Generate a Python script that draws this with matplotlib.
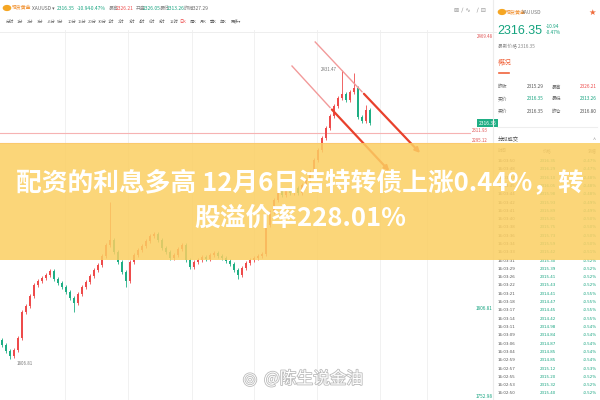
import matplotlib
matplotlib.use("Agg")
import matplotlib.pyplot as plt
from matplotlib.patches import Rectangle, Circle
import matplotlib.patheffects as pe

plt.rcParams['font.family'] = ['Noto Sans CJK SC', 'DejaVu Sans']

# daily closes
closes = [1837.0, 1824.0, 1813.2, 1826.2, 1852.1, 1908.3, 1921.2, 1942.8, 1966.6, 1975.2,
          1981.7, 1988.2, 1996.8, 1979.6, 1970.9, 1962.3, 1951.5, 1938.5, 1927.7, 1947.2,
          1962.3, 1973.1, 1986.0, 1999.0, 2009.8, 2029.2, 2053.0, 2063.8, 2037.9, 2016.3,
          1994.7, 1975.2, 2016.3, 2031.4, 2042.2, 2050.8, 2061.6, 2072.4, 2076.8, 2063.8,
          2046.5, 2037.9, 2024.9, 2031.4, 2044.4, 2053.0, 2020.6, 2005.5, 2016.3, 2020.6,
          2027.1, 2022.8, 2031.4, 2035.7, 2029.2, 2024.9, 2018.4, 2012.0, 1999.0, 1988.2,
          2003.3, 2014.1, 2020.6, 2024.9, 2029.2, 2033.6, 2096.2, 2124.3, 2150.2, 2169.6,
          2161.0, 2171.8, 2165.3, 2176.1, 2165.3, 2182.6, 2193.4, 2210.7, 2236.6, 2258.2,
          2284.1, 2305.7, 2331.6, 2353.2, 2370.5, 2379.2, 2366.2, 2383.5, 2392.1, 2329.5,
          2320.8, 2344.6, 2316.35]
first_open = 1848.0
wick_high = {27: 2144.9, 85: 2431.47, 88: 2424.0, 91: 2355.4}
wick_low = {2: 1806.81, 18: 1908.3, 31: 1962.0, 59: 1979.6}

# drawn channel lines (candle index, price)
upper_x = [78.3, 90.0, 105.0]
upper_y = [2491.5, 2384.0, 2247.4]
lower_x = [72.5, 82.0, 97.3]
lower_y = [2439.6, 2350.0, 2208.5]
level_lines = [2294.9, 2273.6]
level_labels = ["2311.93", "2295.12"]
grid_idx = [15.75, 31.5, 47.5, 63, 78.75, 94.5, 106.25]

header_items = [("现货黄金", 12, '#f08a24'), ("XAUUSD ▾", 32, '#666666'),
                ("2316.35", 57, '#14a37f'), ("-10.94", 77, '#14a37f'), ("-0.47%", 90, '#14a37f'),
                ("最高", 109, '#888888'), ("2326.21", 116, '#ee4b4b'),
                ("开盘", 136, '#888888'), ("2326.05", 143, '#14a37f'),
                ("最低", 160, '#888888'), ("2313.26", 167, '#14a37f'),
                ("昨收", 184, '#888888'), ("2327.29", 191, '#666666')]
periods = ["分时", "1分", "2分", "3分", "+5分", "5分", "10分", "15分", "20分", "30分", "1时", "2时",
           "3时", "4时", "6时", "8时", "12时", "日K", "周K", "月K", "季K", "年K", "更多▾"]

quote_rows = [("昨收", "2315.29", '#555555', "最高", "2326.21", '#ee4b4b'),
              ("买价", "2316.35", '#14a37f', "最低", "2313.26", '#14a37f'),
              ("卖价", "2316.35", '#555555', "昨仓", "2316.80", '#555555')]

trade_times = ["16:03:50", "16:03:48", "16:03:47", "16:03:45", "16:03:44", "16:03:42", "16:03:41",
               "16:03:40", "16:03:38", "16:03:36", "16:03:34", "16:03:33", "16:03:31", "16:03:29",
               "16:03:26", "16:03:22", "16:03:21", "16:03:18", "16:03:17", "16:03:14", "16:03:11",
               "16:03:09", "16:03:06", "16:03:04", "16:02:59", "16:02:57", "16:02:55", "16:02:53",
               "16:02:50"]
trade_prices = ["2316.35", "2316.29", "2316.10", "2316.05", "2315.98", "2315.93", "2315.89",
                "2315.81", "2315.75", "2315.73", "2315.59", "2315.42", "2315.30", "2315.39",
                "2315.41", "2315.43", "2314.41", "2314.47", "2314.45", "2314.42", "2314.98",
                "2314.84", "2314.87", "2314.85", "2314.85", "2315.12", "2315.20", "2315.32",
                "2315.40"]
trade_pcts = ["-0.47%", "-0.47%", "-0.48%", "-0.48%", "-0.48%", "-0.49%", "-0.49%", "-0.50%",
              "-0.50%", "-0.50%", "-0.50%", "-0.51%", "-0.52%", "-0.52%", "-0.52%", "-0.52%",
              "-0.55%", "-0.55%", "-0.55%", "-0.55%", "-0.54%", "-0.54%", "-0.54%", "-0.54%",
              "-0.54%", "-0.53%", "-0.52%", "-0.52%", "-0.52%"]

title_1 = "配资的利息多高 12月6日洁特转债上涨0.44%，转"
title_2 = "股溢价率228.01%"

RED = '#ee4b4b'
GREEN = '#1fae84'

fig = plt.figure(figsize=(6, 4), dpi=100)


def px(x, y):
    return x / 600, 1 - y / 400


# ---- main candle chart ----
ax = fig.add_axes([0, 0, 497 / 600, 370 / 400])
ax.set_xlim(-0.5, 123.75)
ax.set_ylim(1718.2, 2517.4)
ax.axis('off')

for g in grid_idx:
    ax.axvline(g, color='#f1f1f1', lw=0.7, zorder=0)
ax.axhline(2513, color='#eeeeee', lw=0.7, zorder=0)

opens = [first_open] + closes[:-1]
for i, (o, c) in enumerate(zip(opens, closes)):
    col = RED if c >= o else GREEN
    hi = wick_high.get(i, max(o, c) + 4)
    lo = wick_low.get(i, min(o, c) - 4)
    ax.vlines(i, lo, hi, color=col, lw=0.6, zorder=2)
    h = max(abs(c - o), 1.8)
    ax.bar(i, h, bottom=min(o, c), width=0.62, color=col, zorder=3)

for lvl, lab in zip(level_lines, level_labels):
    ax.axhline(lvl, xmax=0.945, color='#f6b3b3', lw=0.8, zorder=1)
    ax.text(121.5, lvl + 6, lab, color='#e05555', fontsize=3.2, ha='right', va='center')

# channel lines: light start, stronger end with arrow
ax.plot(upper_x[:2], upper_y[:2], color='#f29a9a', lw=1.0, zorder=4)
ax.annotate("", xy=(upper_x[2], upper_y[2]), xytext=(upper_x[1], upper_y[1]),
            arrowprops=dict(arrowstyle='-|>', color='#e8412c', lw=1.6, mutation_scale=7), zorder=4)
ax.plot(lower_x[:2], lower_y[:2], color='#f29a9a', lw=1.0, zorder=4)
ax.annotate("", xy=(lower_x[2], lower_y[2]), xytext=(lower_x[1], lower_y[1]),
            arrowprops=dict(arrowstyle='-|>', color='#e8412c', lw=1.6, mutation_scale=7), zorder=4)

ax.text(83.8, wick_high[85], "2431.47", fontsize=3.2, color='#777777', ha='right', va='center')
ax.text(3.6, wick_low[2] - 10, "1806.81", fontsize=3.2, color='#777777', ha='left', va='center')
ax.text(123.6, closes[-1], "2316.35", fontsize=3.6, color='white', ha='right', va='center',
        bbox=dict(facecolor=GREEN, edgecolor='none', pad=1.2), zorder=6)

fig.text(*px(477, 36), "2469.48", fontsize=3.2, color='#e05555', va='center')
fig.text(*px(476, 309), "1806.81", fontsize=3.4, color='#14a37f', va='center')
fig.text(*px(476, 396), "1752.98", fontsize=3.4, color='#14a37f', va='center')

# ---- header over chart ----
fig.patches.append(Circle(px(7, 8), 0.006, transform=fig.transFigure, color='#f5a623'))
for s, x, col in header_items:
    fig.text(*px(x, 8), s, fontsize=3.5, color=col, va='center')
for k, s in enumerate(periods):
    fig.text(*px(6 + k * 10.2, 22), s, fontsize=3.0, va='center',
             color='#ee4b4b' if s == "日K" else '#666666')
fig.text(*px(454, 10), "⊠ ∕ ∿   ∕ ⊟", fontsize=4.5, color='#999999', va='center',
         family='DejaVu Sans')

# ---- right panel ----
fig.add_artist(plt.Line2D([493 / 600, 493 / 600], [0, 1], color='#ececec', lw=0.8))
fig.patches.append(Circle(px(502, 12), 0.006, transform=fig.transFigure, color='#f5a623'))
fig.text(*px(506, 12), "现货黄金", fontsize=3.6, color='#f08a24', va='center')
fig.text(*px(522, 12), "XAUUSD", fontsize=3.6, color='#777777', va='center')
fig.text(*px(592, 12), "★", fontsize=6, color='#ef6b3b', va='center', ha='center', family='DejaVu Sans')
fig.text(*px(497, 31), "2316.35", fontsize=9, color='#14a37f', va='center',
         family=['Liberation Sans Narrow', 'Liberation Sans', 'DejaVu Sans'])
fig.text(*px(546, 26), "-10.94", fontsize=3.4, color='#14a37f', va='center')
fig.text(*px(546, 33), "-0.47%", fontsize=3.4, color='#14a37f', va='center')
fig.text(*px(498, 47), "最新价格 2316.35", fontsize=3.4, color='#888888', va='center')
fig.text(*px(498, 63), "概况", fontsize=5, color='#f0643c', va='center')
fig.add_artist(plt.Line2D([499 / 600, 509 / 600], [1 - 73 / 400] * 2, color='#f0643c', lw=1.2))
for r, (l1, v1, c1, l2, v2, c2) in enumerate(quote_rows):
    y = 87 + r * 12
    fig.text(*px(498, y), l1, fontsize=3.4, color='#666666', va='center')
    fig.text(*px(527, y), v1, fontsize=3.4, color=c1, va='center')
    fig.text(*px(552, y), l2, fontsize=3.4, color='#666666', va='center')
    fig.text(*px(580, y), v2, fontsize=3.4, color=c2, va='center')
fig.add_artist(plt.Line2D([497 / 600, 597 / 600], [1 - 127 / 400] * 2, color='#eeeeee', lw=0.8))
fig.text(*px(498, 140), "分时成交", fontsize=3.8, color='#444444', va='center')
fig.text(*px(593, 140), "^", fontsize=4, color='#999999', va='center')
fig.text(*px(498, 151), "时间", fontsize=3.2, color='#888888', va='center')
fig.text(*px(543, 151), "价格", fontsize=3.2, color='#888888', va='center')
fig.text(*px(597, 151), "涨幅", fontsize=3.2, color='#888888', va='center', ha='right')
for k, (t, p, c) in enumerate(zip(trade_times, trade_prices, trade_pcts)):
    y = 161 + k * 8.3
    fig.text(*px(498, y), t, fontsize=2.9, color='#555555', va='center', family='DejaVu Sans')
    fig.text(*px(540, y), p, fontsize=2.9, color='#14a37f', va='center', family='DejaVu Sans')
    fig.text(*px(597, y), c, fontsize=2.9, color='#14a37f', va='center', ha='right', family='DejaVu Sans')

# ---- watermark ----
fig.text(*px(250, 379), "◎", fontsize=12, color='white', ha='center', va='center', family='DejaVu Sans',
         path_effects=[pe.withStroke(linewidth=1.2, foreground='#bbbbbb')])
fig.text(*px(264, 379), "@陈生说金油", fontsize=12, color='white', va='center',
         path_effects=[pe.withStroke(linewidth=1.2, foreground='#bbbbbb')])

# ---- banner ----
fig.patches.append(Rectangle(px(0, 260), 1, 117 / 400, transform=fig.transFigure,
                             facecolor='#fbcf62', alpha=0.85, edgecolor='none', zorder=10))
fig.text(0.5, 1 - 183 / 400, title_1, fontsize=18.5, color='white', fontweight='bold',
         ha='center', va='center', zorder=11)
fig.text(0.5, 1 - 218 / 400, title_2, fontsize=18.5, color='white', fontweight='bold',
         ha='center', va='center', zorder=11)

fig.savefig("out.png", dpi=100)
